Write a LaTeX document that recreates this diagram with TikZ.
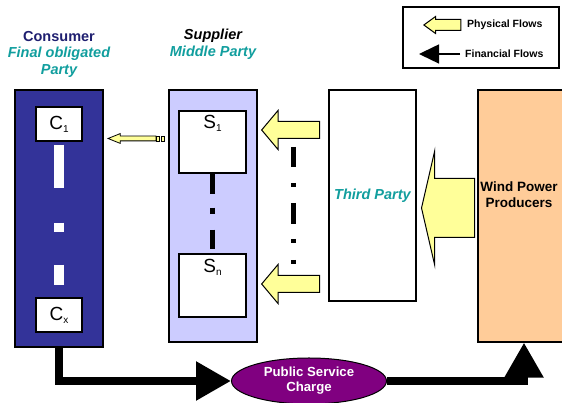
\documentclass[tikz,border=0pt]{standalone}
\usepackage{fontspec}
\setmainfont{Liberation Sans}
\usepackage{tikz}
\usetikzlibrary{positioning,arrows.meta,shapes.geometric,shapes.arrows,calc}
\definecolor{navy1}{HTML}{333399}
\definecolor{navytext}{HTML}{1F1F70}
\definecolor{teal1}{HTML}{119E9E}
\definecolor{lilac1}{HTML}{CCCCFF}
\definecolor{peach1}{HTML}{FFCC99}
\definecolor{yellow1}{HTML}{FFFF99}
\definecolor{purple1}{HTML}{800080}
\newcommand{\idx}[1]{\raisebox{-3pt}{\fontsize{10}{10}\selectfont #1}}

\begin{document}
\begin{tikzpicture}[
    x=1pt, y=1pt,
    party/.style={draw, line width=1.2pt, inner sep=0pt},
    member/.style={draw, fill=white, line width=1.2pt, inner sep=0pt,
                   font=\fontsize{19}{21}\selectfont},
    title/.style={font=\bfseries\itshape\fontsize{14.5}{16.5}\selectfont,
                  align=center, inner sep=0pt},
    physflow/.style={single arrow, draw, fill=yellow1, line width=1pt,
                     inner xsep=0pt, shape border rotate=180, anchor=tip},
    finflow/.style={line width=8.5pt,
                    -{Triangle[length=35pt, width=37pt]}},
    legendtext/.style={font=\bfseries\fontsize{10.5}{12}\selectfont,
                       inner sep=0pt, anchor=west},
]
\useasboundingbox (0,0) rectangle (562,403);

% consumer column
\node[party, fill=navy1, minimum width=88pt, minimum height=257pt]
    (consumer) at (59,184.5) {};
\node[member, minimum width=46pt, minimum height=34pt] (c1) at (59,279)
    {C\idx{1}};
\node[member, minimum width=46pt, minimum height=34pt] (cx) at (59,88)
    {C\idx{x}};
\draw[white, line width=10pt,
      dash pattern=on 43pt off 35pt on 9pt off 33pt on 20pt off 20pt]
    ([yshift=-3pt]c1.south) -- (cx.north);
\node[title, above=12pt of consumer, text=teal1] (contitle)
    {\textcolor{navytext}{\upshape Consumer}\\Final obligated\\Party};

% supplier column
\node[party, fill=lilac1, minimum width=88pt, minimum height=252pt]
    (supplier) at (213,187) {};
\node[member, minimum width=67pt, minimum height=62pt,
      text depth=40pt] (s1) at (212.5,261) {S\idx{1}};
\node[member, minimum width=67pt, minimum height=63pt,
      text depth=40pt] (sn) at (212.5,117.5) {S\idx{n}};
\draw[line width=5pt,
      dash pattern=on 20pt off 14pt on 6pt off 16pt on 19pt off 20pt]
    (s1.south) -- (sn.north);
\node[title, above=30pt of supplier, text=teal1] (suptitle)
    {\textcolor{black}{Supplier}\\Middle Party};

% third party and producers
\node[party, fill=white, minimum width=87pt, minimum height=211pt,
      font=\bfseries\itshape\fontsize{14.5}{16.5}\selectfont, text=teal1]
    (third) at (372.5,207.5) {Third Party};
\node[party, fill=peach1, minimum width=92pt, minimum height=252pt]
    (wind) at (524,187) {};
\node[font=\bfseries\fontsize{13.5}{16}\selectfont, align=center]
    (windtext) at (519,208) {Wind Power\\Producers};

% physical flows
\node[physflow, minimum height=53pt, inner ysep=29pt,
      single arrow head extend=27.5pt, single arrow tip angle=154]
    (windflow) at (421,195) {};
\node[physflow, minimum height=58pt, inner ysep=8pt,
      single arrow head extend=11pt, single arrow tip angle=100]
    (topflow) at (261,273) {};
\node[physflow, minimum height=58pt, inner ysep=8pt,
      single arrow head extend=11pt, single arrow tip angle=100]
    (botflow) at (261,119) {};
\draw[line width=5pt,
      dash pattern=on 20pt off 16pt on 4pt off 16pt on 21pt off 15pt on 4pt off 17pt on 4pt off 20pt]
    (293,256) -- (293,139);
\node[physflow, minimum height=48pt, inner ysep=2pt, line width=0.8pt,
      single arrow head extend=2.5pt, single arrow tip angle=44]
    (supflow) at (107,264.5) {};
\node[draw, fill=yellow1, line width=0.8pt, inner sep=0pt,
      minimum width=3pt, minimum height=5pt] (stripe1) at (158,264.5) {};
\node[draw, fill=yellow1, line width=0.8pt, inner sep=0pt,
      minimum width=3pt, minimum height=5pt] (stripe2) at (162.5,264.5) {};

% financial flows
\node[ellipse, draw, fill=purple1, text=white, line width=1pt,
      minimum width=155pt, minimum height=46pt, inner sep=0pt,
      font=\bfseries\fontsize{13.2}{15}\selectfont, align=center]
    (charge) at (309,22) {Public Service\\Charge};
\draw[finflow] (consumer.south) |- (charge.west);
\draw[finflow] (charge.east) -| (wind.south);

% legend
\node[party, fill=white, minimum width=156pt, minimum height=61pt]
    (legend) at (481,365.5) {};
\node[legendtext] (physlbl) at (467,378) {Physical Flows};
\node[legendtext] (finlbl) at (465,349) {Financial Flows};
\node[physflow, minimum height=37pt, inner ysep=5pt,
      single arrow head extend=3pt, single arrow tip angle=72]
    (physsample) at (423,378) {};
\coordinate (fintip) at (419,349);
\draw[line width=1.5pt, -{Triangle[length=20pt, width=19pt]}]
    ([xshift=-5pt]finlbl.west) -- (fintip);
\end{tikzpicture}
\end{document}
